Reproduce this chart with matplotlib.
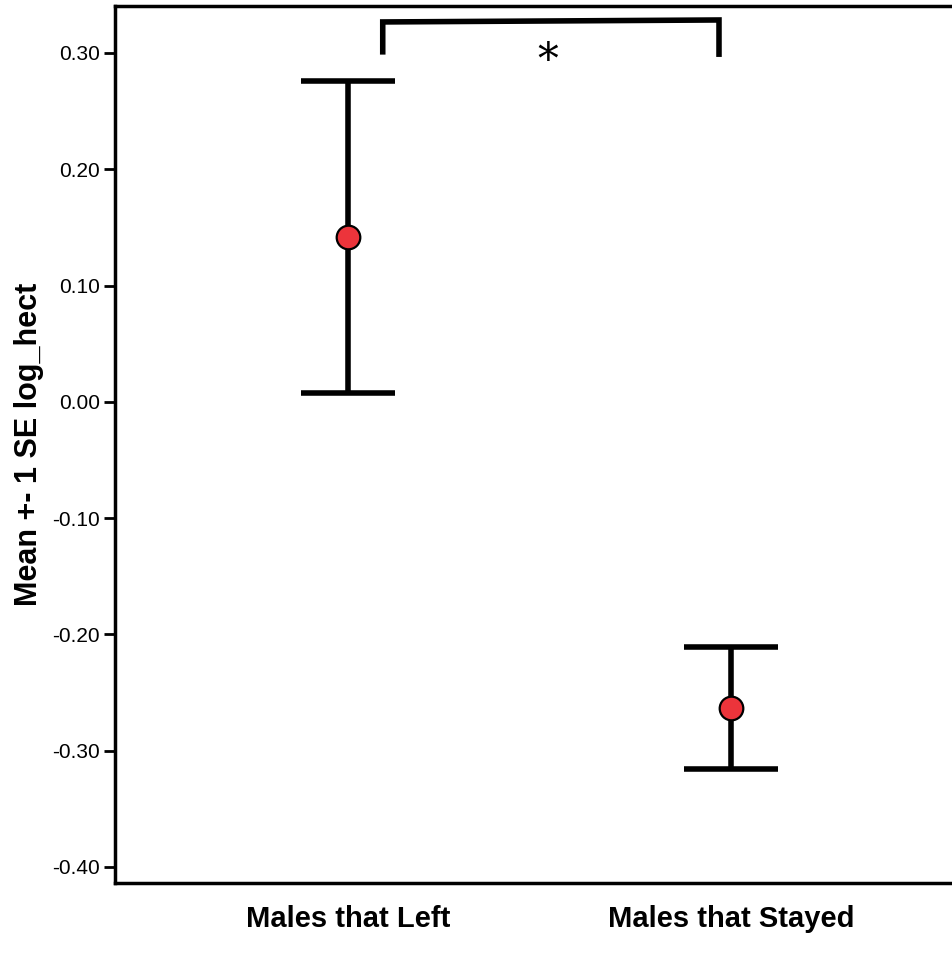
import numpy as np
import matplotlib
matplotlib.use('Agg')
import matplotlib.pyplot as plt

plt.rcParams['font.family'] = ['Liberation Sans', 'DejaVu Sans']

# data
groups = ['Males that Left', 'Males that Stayed']
means = [0.142, -0.263]
upper = [0.276, -0.211]
lower = [0.008, -0.316]
yticks = [0.30, 0.20, 0.10, 0.00, -0.10, -0.20, -0.30, -0.40]

x = np.arange(len(groups))
means = np.array(means)
err = [means - np.array(lower), np.array(upper) - means]

fig = plt.figure(figsize=(9.53, 9.56), dpi=100)
ax = fig.add_axes([0.1207, 0.0764, 0.8793, 0.9173])

ax.errorbar(x, means, yerr=err, fmt='none', ecolor='black', elinewidth=4,
            capsize=34, capthick=4, zorder=2)
ax.plot(x, means, 'o', ms=17, mfc='#ec343b', mec='black', mew=1.6, zorder=3)

# significance bracket
ax.plot([0.091, 0.091, 0.969, 0.969], [0.301, 0.3267, 0.3284, 0.299],
        color='black', lw=4, solid_joinstyle='miter', clip_on=False)
ax.text(0.522, 0.293, '*', ha='center', va='center', fontsize=30,
        family='DejaVu Serif')

ax.set_xlim(-0.608, 1.580)
ax.set_ylim(-0.4138, 0.3404)
ax.set_yticks(yticks)
ax.set_yticklabels([f'{v:.2f}' for v in yticks], fontsize=15)
ax.set_xticks(x)
ax.set_xticklabels(groups, fontsize=21, fontweight='bold')
ax.tick_params(axis='x', length=0, pad=16)
ax.tick_params(axis='y', length=8, width=2, pad=3)
ax.set_ylabel('Mean +- 1 SE log_hect', fontsize=22, fontweight='bold', labelpad=6)

for s in ['left', 'bottom', 'top']:
    ax.spines[s].set_linewidth(2.5)
ax.spines['right'].set_visible(False)

fig.savefig('out.png', dpi=100)
